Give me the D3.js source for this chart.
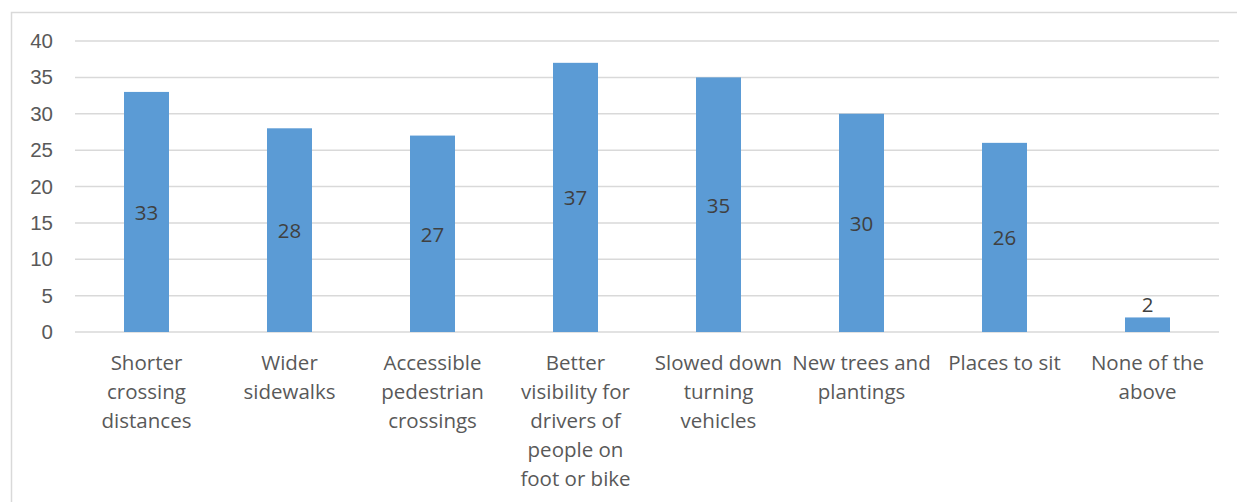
<!DOCTYPE html>
<html>
<head>
<meta charset="utf-8">
<script src="https://cdn.jsdelivr.net/npm/d3@7"></script>
<style>
  html, body { margin: 0; padding: 0; background: #fff; }
  svg { display: block; font-family: "Open Sans", "Noto Sans", sans-serif; }
</style>
</head>
<body>
<svg id="chart" width="1237" height="502"></svg>
<script>
// categories (line breaks as in the original chart)
const categories = [
  'Shorter\ncrossing\ndistances',
  'Wider\nsidewalks',
  'Accessible\npedestrian\ncrossings',
  'Better\nvisibility for\ndrivers of\npeople on\nfoot or bike',
  'Slowed down\nturning\nvehicles',
  'New trees and\nplantings',
  'Places to sit',
  'None of the\nabove'
]
const values = [33, 28, 27, 37, 35, 30, 26, 2]
const yTicks = [0, 5, 10, 15, 20, 25, 30, 35, 40]

const width = 1237, height = 502
const margin = { top: 41, right: 18, bottom: 170, left: 75 }
const w = width - margin.left - margin.right
const h = height - margin.top - margin.bottom

const svg = d3.select('#chart')

// outer frame
svg.append('rect')
  .attr('x', 11.5).attr('y', 12.5)
  .attr('width', width + 10).attr('height', height + 10)
  .attr('fill', 'none').attr('stroke', '#d9d9d9').attr('stroke-width', 1.5)

const g = svg.append('g').attr('transform', `translate(${margin.left},${margin.top})`)

const x = d3.scaleBand().domain(categories).range([0, w]).paddingInner(0).paddingOuter(0)
const y = d3.scaleLinear().domain([0, 40]).range([h, 0])

// gridlines
g.append('g')
  .selectAll('line')
  .data(yTicks)
  .join('line')
  .attr('x1', 0).attr('x2', w)
  .attr('y1', d => y(d)).attr('y2', d => y(d))
  .attr('stroke', '#d9d9d9').attr('stroke-width', 1.5)

// y axis labels
const yAxis = d3.axisLeft(y).tickValues(yTicks).tickSize(0).tickPadding(22)
g.append('g').call(yAxis)
  .call(s => s.select('.domain').remove())
  .call(s => s.selectAll('text').attr('font-size', 20.5).attr('fill', '#595959').attr('font-family', null))

// bars
const barW = 45
g.append('g')
  .selectAll('rect')
  .data(values)
  .join('rect')
  .attr('x', (d, i) => x(categories[i]) + x.bandwidth() / 2 - barW / 2)
  .attr('width', barW)
  .attr('y', d => y(d))
  .attr('height', d => h - y(d))
  .attr('fill', '#5b9bd5')

// data labels
g.append('g')
  .selectAll('text')
  .data(values)
  .join('text')
  .attr('x', (d, i) => x(categories[i]) + x.bandwidth() / 2)
  .attr('y', d => d < 5 ? y(d) - 5 : (y(d) + y(0)) / 2 + 8)
  .attr('text-anchor', 'middle')
  .attr('font-size', 20.5)
  .attr('fill', '#404040')
  .text(d => d)

// category labels
const xl = g.append('g').attr('transform', `translate(0,${h})`)
categories.forEach(c => {
  const t = xl.append('text')
    .attr('text-anchor', 'middle')
    .attr('font-size', 20.5)
    .attr('fill', '#595959')
  c.split('\n').forEach((line, j) => {
    t.append('tspan')
      .attr('x', x(c) + x.bandwidth() / 2)
      .attr('y', 38 + j * 29)
      .text(line)
  })
})
</script>
</body>
</html>
